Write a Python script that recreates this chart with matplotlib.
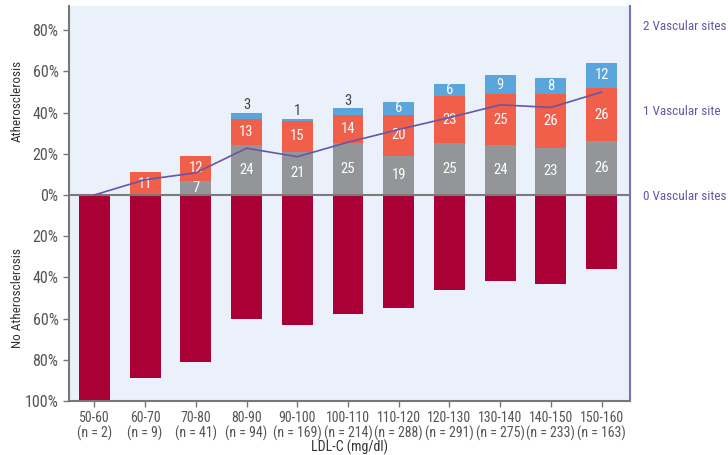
import matplotlib.pyplot as plt
import numpy as np

# ── Data ───────────────────────────────────────────────────────────────────────
ldl_bins = ["50-60", "60-70", "70-80", "80-90", "90-100", "100-110",
            "110-120", "120-130", "130-140", "140-150", "150-160"]
n_counts = [2, 9, 41, 94, 169, 214, 288, 291, 275, 233, 163]

pct_0_sites = [0, 0, 7, 24, 21, 25, 19, 25, 24, 23, 26]
pct_1_site = [0, 11, 12, 13, 15, 14, 20, 23, 25, 26, 26]
pct_2_sites = [0, 0, 0, 3, 1, 3, 6, 6, 9, 8, 12]
mean_sites = [0.0, 0.18, 0.26, 0.55, 0.45, 0.62, 0.77, 0.91, 1.06, 1.03, 1.21]

site_labels = ["0 Vascular sites", "1 Vascular site", "2 Vascular sites"]

# ── Style ──────────────────────────────────────────────────────────────────────
plt.rcParams["font.family"] = ["Roboto Condensed", "DejaVu Sans"]
C_GRAY = "#939598"
C_RED = "#f05f4a"
C_BLUE = "#5aa6dc"
C_NONE = "#ab0036"
C_LINE = "#6657a6"
C_BG = "#eaf1fa"
C_TEXT = "#555555"

g = np.array(pct_0_sites)
r = np.array(pct_1_site)
b = np.array(pct_2_sites)
no_ath = 100 - (g + r + b)
x = np.arange(len(ldl_bins))
w = 0.61

fig = plt.figure(figsize=(7.28, 4.55), dpi=100)
ax = fig.add_axes([0.0948, 0.1187, 0.7706, 0.8681])
ax.set_facecolor(C_BG)

ax.bar(x, g, w, color=C_GRAY, zorder=2)
ax.bar(x, r, w, bottom=g, color=C_RED, zorder=2)
ax.bar(x, b, w, bottom=g + r, color=C_BLUE, zorder=2)
ax.bar(x, -no_ath, w, color=C_NONE, zorder=2)
ax.axhline(0, color="#7a7a7a", lw=1.5, zorder=3)

# segment labels: white inside, dark above the bar when the segment is thin
for i in range(len(x)):
    for val, base in ((g[i], 0), (r[i], g[i]), (b[i], g[i] + r[i])):
        if val <= 0:
            continue
        if val >= 5:
            ax.text(x[i], base + val / 2, f"{val}", ha="center", va="center",
                    color="white", fontsize=10.5, zorder=4)
        else:
            ax.text(x[i], base + val + 0.2, f"{val}", ha="center", va="bottom",
                    color="#444444", fontsize=10.5, zorder=4)

ax.set_xlim(-0.5, 10.56)
ax.set_ylim(-100, 91.7)
yt = np.arange(-100, 81, 20)
ax.set_yticks(yt)
ax.set_yticklabels([f"{abs(v)}%" for v in yt])
ax.set_xticks(x)
ax.set_xticklabels([f"{lb}\n(n = {n})" for lb, n in zip(ldl_bins, n_counts)],
                   linespacing=1.1)
ax.tick_params(axis="both", colors="#777777", labelcolor=C_TEXT, length=4, width=1)
ax.tick_params(axis="y", labelsize=11.5)
ax.tick_params(axis="x", labelsize=10, pad=3)
for s in ("left", "bottom"):
    ax.spines[s].set_color("#777777")
    ax.spines[s].set_linewidth(1.5)
ax.spines["top"].set_visible(False)
ax.spines["right"].set_visible(False)

fig.text(0.4795, 0.0176, "LDL-C (mg/dl)", ha="center", va="center",
         fontsize=10, color="#333333")
fig.text(0.024, (0.9868 + 0.5716) / 2, "Atherosclerosis", rotation=90,
         ha="center", va="center", fontsize=9.5, color="#333333")
fig.text(0.024, (0.5716 + 0.1187) / 2, "No Atherosclerosis", rotation=90,
         ha="center", va="center", fontsize=9.5, color="#333333")

# mean number of vascular sites on the secondary axis
ax2 = ax.twinx()
ax2.plot(x, mean_sites, color=C_LINE, lw=1.2, zorder=5)
ax2.set_ylim(-2.424, 2.223)
ax2.set_yticks([0, 1, 2])
ax2.set_yticklabels(site_labels)
ax2.tick_params(axis="y", length=0, pad=9, labelsize=9.5, labelcolor=C_LINE)
for s in ("left", "top", "bottom"):
    ax2.spines[s].set_visible(False)
ax2.spines["right"].set_color("#7b6fb5")
ax2.spines["right"].set_linewidth(1.5)

fig.savefig("out.png", dpi=100)
